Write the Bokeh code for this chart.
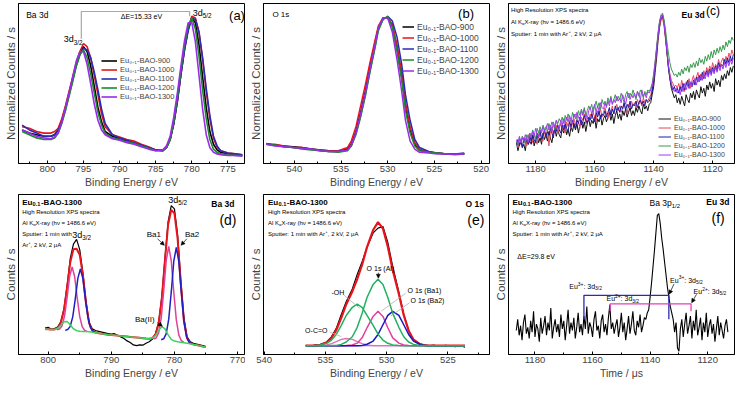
from bokeh.plotting import figure
from bokeh.layouts import gridplot
from bokeh.models import Label, Legend, LegendItem, Arrow, NormalHead, Range1d, FixedTicker
from bokeh.embed import file_html
from bokeh.resources import INLINE

FONT = "Liberation Sans"

# ---------------- data ----------------
series_labels = ["Eu₀.₁-BAO-900", "Eu₀.₁-BAO-1000", "Eu₀.₁-BAO-1100",
                 "Eu₀.₁-BAO-1200", "Eu₀.₁-BAO-1300"]

# (a) Ba 3d, normalized
be_a = [803.5, 802.5, 801.5, 800.5, 799.5, 799, 798.5, 798, 797.5, 797, 796.5, 796, 795.5, 795,
        794.5, 794, 793.5, 793, 792.5, 792, 791, 790, 789, 788, 787, 786, 785, 784, 783.5, 783,
        782.5, 782, 781.5, 781, 780.5, 780, 779.5, 779, 778.5, 778, 777.5, 777, 776.5, 776, 775, 774, 773]
a_900 = [.21, .19, .18, .17, .17, .18, .21, .27, .35, .44, .53, .62, .69, .73, .70, .61, .48, .35, .26, .20,
         .17, .155, .14, .13, .115, .10, .085, .08, .10, .15, .25, .39, .56, .72, .84, .91, .88, .74, .54, .35,
         .20, .12, .085, .07, .06, .055, .05]
a_1000 = [.23, .22, .20, .19, .19, .20, .22, .28, .36, .45, .54, .63, .70, .75, .73, .66, .55, .43, .31, .23,
          .18, .165, .15, .14, .12, .105, .085, .085, .10, .15, .25, .39, .56, .72, .84, .92, .91, .82, .65, .45,
          .28, .16, .10, .08, .065, .06, .055]
a_1100 = [.24, .21, .19, .17, .17, .18, .21, .26, .34, .43, .52, .61, .68, .72, .71, .66, .57, .46, .34, .25,
          .18, .16, .145, .13, .115, .10, .085, .08, .10, .15, .25, .39, .56, .71, .83, .91, .90, .82, .66, .47,
          .30, .17, .11, .08, .065, .06, .055]
a_1200 = [.20, .18, .16, .15, .15, .16, .19, .25, .33, .42, .51, .61, .68, .71, .66, .56, .44, .32, .24, .19,
          .16, .15, .135, .125, .11, .095, .08, .08, .10, .15, .26, .41, .58, .74, .86, .91, .84, .67, .46, .28,
          .15, .09, .07, .06, .055, .05, .05]
a_1300 = [.21, .19, .17, .16, .155, .165, .19, .26, .35, .44, .54, .64, .70, .70, .62, .50, .37, .27, .21, .18,
          .155, .145, .13, .12, .105, .09, .08, .085, .11, .17, .29, .44, .61, .77, .88, .88, .76, .55, .34, .18,
          .10, .07, .06, .055, .05, .05, .045]
ba_split = [795.3, 780.3]          # 3d3/2 and 3d5/2 positions for the bracket

# (b) O 1s, normalized
be_b = [543.0, 542.1, 541.1, 540.1, 539.2, 538.2, 537.2, 536.3, 535.3, 534.3, 533.9, 533.4, 532.9, 532.4,
        531.9, 531.4, 531.0, 530.5, 530.0, 529.5, 529.0, 528.5, 528.1, 527.6, 527.1, 526.6, 525.6, 524.7,
        523.7, 522.8, 521.8]
b_900 = [.12, .115, .11, .105, .10, .09, .085, .08, .075, .09, .12, .20, .32, .45, .60, .74, .85, .91, .91, .86,
         .72, .54, .36, .21, .12, .085, .07, .065, .06, .06, .06]
b_1000 = [.12, .12, .11, .10, .10, .09, .085, .08, .08, .10, .14, .23, .36, .49, .63, .76, .86, .91, .91, .87,
          .74, .57, .38, .23, .13, .09, .07, .065, .06, .06, .06]
b_1100 = [.125, .115, .105, .10, .095, .09, .08, .075, .075, .085, .11, .19, .30, .43, .58, .72, .84, .90, .92, .89,
          .79, .62, .43, .27, .15, .10, .075, .065, .06, .06, .065]
b_1200 = [.12, .115, .105, .10, .09, .085, .08, .075, .07, .08, .11, .18, .29, .42, .57, .71, .83, .90, .92, .85,
          .70, .52, .33, .19, .11, .08, .07, .065, .06, .06, .06]
b_1300 = [.12, .11, .105, .10, .095, .09, .08, .075, .075, .085, .115, .19, .31, .44, .59, .73, .85, .91, .91, .82,
          .65, .45, .27, .14, .09, .07, .065, .06, .06, .055, .06]

# shared 0.5 step grid for (c) binding energy and (f) time
t_grid = [1186.5, 1186, 1185.5, 1185, 1184.5, 1184, 1183.5, 1183, 1182.5, 1182,
          1181.5, 1181, 1180.5, 1180, 1179.5, 1179, 1178.5, 1178, 1177.5, 1177,
          1176.5, 1176, 1175.5, 1175, 1174.5, 1174, 1173.5, 1173, 1172.5, 1172,
          1171.5, 1171, 1170.5, 1170, 1169.5, 1169, 1168.5, 1168, 1167.5, 1167,
          1166.5, 1166, 1165.5, 1165, 1164.5, 1164, 1163.5, 1163, 1162.5, 1162,
          1161.5, 1161, 1160.5, 1160, 1159.5, 1159, 1158.5, 1158, 1157.5, 1157,
          1156.5, 1156, 1155.5, 1155, 1154.5, 1154, 1153.5, 1153, 1152.5, 1152,
          1151.5, 1151, 1150.5, 1150, 1149.5, 1149, 1148.5, 1148, 1147.5, 1147,
          1146.5, 1146, 1145.5, 1145, 1144.5, 1144, 1143.5, 1143, 1142.5, 1142,
          1141.5, 1141, 1140.5, 1140, 1139.5, 1139, 1138.5, 1138, 1137.5, 1137,
          1136.5, 1136, 1135.5, 1135, 1134.5, 1134, 1133.5, 1133, 1132.5, 1132,
          1131.5, 1131, 1130.5, 1130, 1129.5, 1129, 1128.5, 1128, 1127.5, 1127,
          1126.5, 1126, 1125.5, 1125, 1124.5, 1124, 1123.5, 1123, 1122.5, 1122,
          1121.5, 1121, 1120.5, 1120, 1119.5, 1119, 1118.5, 1118, 1117.5, 1117,
          1116.5, 1116, 1115.5, 1115, 1114.5, 1114, 1113.5, 1113]

# (c) Eu 3d, normalized
c_900 = [.13, .08, .12, .15, .10, .12, .08, .15, .12, .14,
         .12, .17, .11, .15, .18, .13, .16, .12, .19, .15,
         .18, .14, .20, .16, .13, .19, .22, .17, .21, .18,
         .16, .22, .19, .24, .18, .21, .17, .23, .20, .25,
         .21, .25, .19, .24, .27, .22, .26, .20, .25, .28,
         .23, .27, .25, .29, .22, .28, .26, .30, .24, .28,
         .30, .26, .29, .32, .27, .31, .25, .30, .33, .28,
         .31, .27, .33, .30, .34, .29, .32, .35, .30, .33,
         .30, .35, .32, .36, .33, .31, .37, .34, .36, .33,
         .37, .38, .43, .48, .57, .66, .77, .85, .90, .92,
         .88, .79, .70, .60, .53, .47, .44, .41, .43, .38,
         .41, .37, .42, .39, .36, .43, .40, .38, .44, .41,
         .45, .40, .46, .43, .41, .48, .44, .47, .42, .49,
         .46, .51, .47, .50, .45, .53, .49, .52, .48, .55,
         .52, .56, .53, .58, .55, .60, .57, .61]
c_1000 = [.14, .10, .15, .12, .17, .13, .16, .11, .18, .14,
          .17, .13, .19, .15, .12, .18, .21, .16, .14, .20,
          .17, .21, .11, .19, .23, .18, .20, .24, .19, .22,
          .25, .21, .24, .19, .26, .23, .27, .22, .25, .28,
          .24, .28, .26, .22, .29, .27, .31, .25, .29, .27,
          .31, .28, .32, .29, .26, .33, .30, .34, .29, .32,
          .35, .31, .28, .34, .32, .36, .31, .34, .37, .33,
          .36, .32, .35, .38, .34, .31, .37, .35, .39, .36,
          .38, .35, .40, .37, .39, .36, .41, .38, .40, .39,
          .41, .43, .47, .52, .60, .69, .78, .86, .90, .91,
          .86, .78, .69, .61, .56, .52, .50, .48, .49, .47,
          .50, .46, .52, .48, .45, .51, .49, .53, .47, .52,
          .55, .50, .54, .57, .52, .56, .53, .58, .55, .60,
          .57, .61, .58, .63, .59, .62, .60, .65, .61, .64,
          .66, .62, .67, .64, .69, .66, .71, .68]
c_1100 = [.12, .15, .11, .14, .10, .16, .13, .15, .12, .17,
          .14, .18, .15, .13, .19, .16, .20, .15, .18, .21,
          .17, .20, .18, .22, .19, .16, .23, .20, .24, .21,
          .19, .24, .21, .25, .22, .20, .26, .23, .27, .24,
          .22, .27, .25, .29, .24, .26, .30, .27, .25, .29,
          .27, .31, .28, .26, .32, .29, .33, .28, .31, .30,
          .33, .29, .32, .35, .30, .34, .31, .36, .33, .35,
          .32, .36, .34, .38, .33, .37, .35, .39, .34, .37,
          .36, .39, .35, .38, .40, .37, .39, .36, .40, .38,
          .39, .41, .45, .52, .61, .71, .80, .88, .92, .93,
          .89, .80, .70, .60, .53, .49, .46, .48, .45, .47,
          .44, .48, .45, .50, .46, .49, .52, .47, .51, .48,
          .52, .49, .54, .51, .55, .52, .57, .53, .56, .58,
          .55, .59, .56, .60, .57, .61, .58, .63, .60, .62,
          .61, .65, .62, .66, .63, .67, .64, .68]
c_1200 = [.14, .11, .16, .13, .17, .15, .12, .18, .16, .19,
          .17, .21, .18, .15, .22, .19, .23, .20, .24, .21,
          .23, .20, .25, .22, .26, .24, .21, .27, .25, .28,
          .26, .29, .25, .30, .27, .31, .28, .26, .32, .29,
          .31, .28, .33, .30, .34, .31, .35, .29, .33, .36,
          .34, .37, .32, .36, .39, .35, .38, .34, .40, .37,
          .39, .36, .41, .38, .42, .37, .40, .43, .39, .42,
          .40, .44, .41, .38, .43, .45, .41, .44, .42, .46,
          .43, .40, .45, .42, .46, .44, .41, .45, .43, .46,
          .45, .47, .50, .56, .64, .73, .82, .89, .93, .94,
          .90, .84, .76, .69, .63, .59, .57, .55, .56, .54,
          .57, .55, .59, .56, .60, .58, .61, .57, .62, .60,
          .63, .60, .64, .61, .66, .63, .65, .62, .67, .64,
          .68, .65, .70, .66, .71, .68, .72, .69, .73, .70,
          .74, .71, .76, .73, .77, .75, .79, .77]
c_1300 = [.15, .12, .17, .13, .16, .14, .18, .15, .13, .19,
          .16, .20, .17, .22, .18, .16, .21, .19, .23, .20,
          .22, .25, .21, .24, .20, .26, .23, .27, .24, .22,
          .27, .24, .28, .25, .29, .26, .30, .27, .25, .31,
          .28, .32, .29, .27, .33, .30, .34, .31, .28, .33,
          .35, .31, .34, .37, .32, .36, .33, .38, .35, .34,
          .38, .35, .39, .36, .41, .37, .40, .38, .42, .39,
          .41, .38, .43, .40, .37, .42, .44, .40, .43, .41,
          .44, .41, .45, .43, .40, .46, .42, .44, .41, .45,
          .44, .46, .49, .55, .63, .72, .81, .88, .92, .93,
          .88, .80, .71, .62, .55, .50, .47, .45, .47, .44,
          .46, .43, .48, .45, .50, .46, .49, .47, .51, .48,
          .50, .53, .49, .54, .51, .55, .52, .56, .53, .57,
          .54, .58, .55, .59, .56, .60, .57, .61, .58, .62,
          .59, .63, .60, .64, .61, .65, .62, .66]

# (f) Eu0.1-BAO-1300 versus time
f_1300 = [.15, .22, .12, .18, .09, .20, .25, .13, .17, .10,
          .21, .14, .27, .11, .19, .16, .08, .23, .13, .18,
          .24, .12, .20, .15, .29, .10, .17, .22, .14, .19,
          .11, .25, .16, .21, .09, .18, .28, .13, .20, .15,
          .23, .10, .17, .26, .14, .19, .12, .24, .16, .30,
          .13, .20, .17, .11, .22, .27, .15, .18, .10, .21,
          .25, .14, .19, .12, .23, .31, .16, .20, .13, .18,
          .22, .11, .17, .26, .14, .20, .09, .16, .24, .13,
          .19, .27, .15, .12, .21, .17, .25, .14, .18, .23,
          .22, .26, .28, .36, .45, .55, .65, .76, .87, .88,
          .82, .73, .66, .58, .50, .42, .36, .30, .26, .22,
          .14, .20, .04, .02, .16, .22, .11, .19, .26, .13,
          .18, .24, .10, .21, .15, .28, .12, .17, .23, .09,
          .20, .14, .26, .11, .18, .22, .13, .19, .08, .16,
          .24, .12, .20, .15, .10, .18, .22, .14]
eu3_split = [1163.0, 1133.5]
eu2_split = [1153.9, 1125.8]

# (d) Ba 3d fit, Eu0.1-BAO-1300
be_d = [800.5, 800, 799.5, 799, 798.5, 798, 797.5, 797, 796.5, 796, 795.5, 795, 794.5, 794, 793.5, 793,
        792.5, 792, 791.5, 791, 790.5, 790, 789.5, 789, 788.5, 788, 787.5, 787, 786.5, 786, 785.5, 785,
        784.5, 784, 783.5, 783, 782.5, 782, 781.5, 781, 780.5, 780, 779.5, 779, 778.5, 778, 777.5, 777,
        776.5, 776, 775.5, 775]
d_data = [.165, .170, .158, .162, .172, .205, .285, .43, .60, .69, .72, .655, .51, .33, .20, .16, .15, .145,
          .14, .135, .13, .128, .13, .12, .11, .10, .085, .075, .06, .055, .06, .058, .07, .08, .095, .13, .20,
          .36, .60, .83, .93, .91, .75, .47, .23, .11, .08, .07, .065, .06, .055, .05]
d_env = [.160, .158, .156, .157, .166, .198, .276, .419, .577, .658, .661, .623, .497, .318, .195, .149, .137,
         .133, .130, .127, .124, .122, .120, .118, .116, .114, .112, .110, .108, .106, .104, .102, .100, .099,
         .102, .125, .194, .348, .589, .812, .904, .882, .726, .450, .212, .102, .071, .063, .059, .055, .050, .046]
d_ba2 = [.160, .158, .156, .157, .164, .183, .205, .207, .184, .161, .149, .145, .144, .143, .142, .139, .136,
         .133, .130, .127, .124, .122, .120, .118, .116, .114, .112, .110, .108, .106, .104, .102, .100, .099,
         .102, .119, .151, .174, .160, .123, .095, .084, .080, .077, .074, .071, .067, .063, .059, .055, .050, .046]
ba1_x32 = [798.6, 798.2, 797.8, 797.4, 797.0, 796.6, 796.2, 795.8, 795.4, 795.0, 794.6, 794.2, 793.8]
ba1_y32 = [.154, .159, .180, .242, .357, .488, .547, .486, .353, .237, .173, .150, .143]
ba2_x32 = [797.3, 796.9, 796.5, 796.1, 795.7, 795.3, 794.9, 794.5, 794.1, 793.7, 793.3, 792.9, 792.5]
ba2_y32 = [.151, .156, .176, .237, .349, .476, .534, .474, .345, .231, .168, .145, .137]
ba1_x52 = [783.3, 782.9, 782.5, 782.1, 781.7, 781.3, 780.9, 780.5, 780.1, 779.7, 779.3, 778.9, 778.5]
ba1_y52 = [.097, .103, .135, .226, .395, .588, .675, .585, .389, .216, .121, .086, .076]
ba2_x52 = [782.1, 781.7, 781.3, 780.9, 780.5, 780.1, 779.7, 779.3, 778.9, 778.5, 778.1, 777.7, 777.3]
ba2_y52 = [.092, .098, .130, .221, .391, .583, .670, .579, .383, .210, .114, .078, .067]

# (e) O 1s fit, Eu0.1-BAO-1300
be_e = [536.6, 536.2, 535.8, 535.4, 534.9, 534.5, 534.1, 533.7, 533.3, 532.8, 532.4, 532.0, 531.6, 531.1,
        530.7, 530.3, 529.9, 529.5, 529.0, 528.6, 528.2, 527.8, 527.3, 526.9, 526.5, 526.1, 525.7, 525.2,
        524.8, 524.4, 524.0, 523.6]
e_data = [.058, .052, .060, .063, .078, .11, .165, .25, .33, .41, .50, .58, .67, .76, .79, .80, .70, .55, .39,
          .25, .15, .09, .065, .06, .055, .058, .05, .057, .054, .049, .056, .045]
e_env = [.055, .055, .057, .061, .075, .104, .154, .229, .313, .394, .471, .561, .671, .778, .827, .787, .673,
         .526, .378, .246, .149, .092, .066, .058, .055, .055, .055, .055, .055, .055, .055, .055]
e_al = [.055, .055, .055, .055, .055, .056, .057, .063, .078, .111, .170, .257, .356, .438, .470, .438, .356,
        .257, .170, .111, .078, .063, .057, .056, .055, .055, .055, .055, .055, .055, .055, .055]
e_oh = [.055, .055, .057, .060, .070, .090, .127, .182, .244, .295, .315, .295, .244, .182, .127, .090, .070,
        .060, .057, .055, .055, .055, .055, .055, .055, .055, .055, .055, .055, .055, .055, .055]
e_ba1 = [.055, .055, .055, .055, .055, .055, .055, .055, .056, .059, .071, .104, .167, .238, .270, .238, .167,
         .104, .071, .059, .056, .055, .055, .055, .055, .055, .055, .055, .055, .055, .055, .055]
e_ba2 = [.055, .055, .055, .055, .055, .055, .055, .055, .055, .055, .055, .057, .064, .084, .125, .186, .245,
         .270, .245, .186, .125, .084, .064, .057, .055, .055, .055, .055, .055, .055, .055, .055]
e_oco = [.055, .055, .055, .056, .060, .068, .080, .094, .100, .094, .080, .068, .060, .056, .055, .055, .055,
         .055, .055, .055, .055, .055, .055, .055, .055, .055, .055, .055, .055, .055, .055, .055]
e_base = [.055, .055, .055, .055, .055, .055, .055, .055, .055, .055, .055, .055, .055, .055, .055, .055, .055,
          .055, .055, .055, .055, .055, .055, .055, .055, .055, .055, .055, .055, .055, .055, .055]

# ---------------- helpers ----------------
CW = {' ': 278, '!': 278, '(': 333, ')': 333, '+': 584, ',': 278, '-': 333, '.': 278, '/': 278, ':': 278,
      '=': 584, 'A': 667, 'B': 667, 'C': 722, 'D': 722, 'E': 667, 'F': 611, 'G': 778, 'H': 722, 'I': 278,
      'K': 667, 'L': 556, 'M': 833, 'N': 722, 'O': 778, 'P': 667, 'R': 722, 'S': 667, 'T': 611, 'U': 722,
      'V': 667, 'X': 667, 'a': 556, 'b': 556, 'c': 500, 'd': 556, 'e': 556, 'f': 278, 'g': 556, 'h': 556,
      'i': 222, 'k': 500, 'l': 222, 'm': 833, 'n': 556, 'o': 556, 'p': 556, 'r': 333, 's': 500, 't': 278,
      'u': 556, 'v': 500, 'w': 722, 'y': 500, 'z': 500, 'α': 578, 'ν': 500, 'μ': 576, 'Δ': 668}
for _d in "0123456789":
    CW[_d] = 556

# reference-pixel -> data mapping for placing annotations
PANEL = {"a": (800, 48.5, 7.33, 172, 169), "b": (530, 395.3, 9.5, 172, 169),
         "c": (1180, 546.7, 3.0, 166, 163), "d": (800, 48.3, 6.45, 371, 170),
         "e": (540, 268, 12.55, 371, 170), "f": (1180, 545, 2.94, 371, 170)}


def pos(k, X, Y):
    x0, px0, s, yb, h = PANEL[k]
    return x0 - (X - px0) / s, (yb - Y) / h


def tw(s, fs, bold):
    return sum(CW.get(ch, 556) for ch in s) / 1000.0 * fs * (1.07 if bold else 1.0)


def rich(p, k, X, Y, parts, fs, color="black", bold=False, align="left"):
    x, y = pos(k, X, Y)
    items, total = [], 0.0
    for t, kind in parts:
        f = fs * 0.7 if kind in ("sub", "sup") else fs
        items.append((t, kind, f, total))
        total += tw(t, f, bold)
    start = -total if align == "right" else (-total / 2 if align == "center" else 0)
    for t, kind, f, off in items:
        dy = -0.3 * fs if kind == "sub" else (0.4 * fs if kind == "sup" else 0)
        p.add_layout(Label(x=x, y=y, x_offset=start + off, y_offset=dy, text=t, text_font=FONT,
                           text_font_size=f"{f:.1f}px", text_color=color,
                           text_font_style="bold" if bold else "normal",
                           text_baseline="middle", text_align="left"))


def arrow(p, k, X1, Y1, X2, Y2):
    x1, y1 = pos(k, X1, Y1)
    x2, y2 = pos(k, X2, Y2)
    p.add_layout(Arrow(end=NormalHead(size=4, fill_color="black", line_color="black", line_width=0.5),
                       x_start=x1, y_start=y1, x_end=x2, y_end=y2, line_width=0.7, line_color="black"))


def leader(p, k, X1, Y1, X2, Y2):
    x1, y1 = pos(k, X1, Y1)
    x2, y2 = pos(k, X2, Y2)
    p.segment(x0=[x1], y0=[y1], x1=[x2], y1=[y2], line_color="#b0b0b0", line_width=0.8)


def make_fig(xr, ticks, minor, xlabel, ylabel):
    p = figure(width=245, height=191, x_range=Range1d(xr[0], xr[1]), y_range=Range1d(0, 1),
               output_backend="svg", toolbar_location=None,
               min_border_left=18, min_border_right=1, min_border_top=3, min_border_bottom=28)
    p.outline_line_color = "black"
    p.outline_line_width = 1
    p.outline_line_alpha = 1
    p.xgrid.visible = False
    p.ygrid.visible = False
    ax = p.xaxis[0]
    ax.ticker = FixedTicker(ticks=ticks, minor_ticks=minor)
    ax.major_tick_in = 3
    ax.major_tick_out = 0
    ax.minor_tick_in = 2
    ax.minor_tick_out = 0
    ax.major_label_text_font = FONT
    ax.major_label_text_font_size = "9.5px"
    ax.major_label_standoff = 2
    ax.axis_label = xlabel
    ax.axis_label_text_font = FONT
    ax.axis_label_text_font_size = "10.5px"
    ax.axis_label_text_font_style = "normal"
    ax.axis_label_standoff = 1
    ay = p.yaxis[0]
    ay.ticker = FixedTicker(ticks=[])
    ay.major_tick_in = 0
    ay.major_tick_out = 0
    ay.minor_tick_in = 0
    ay.minor_tick_out = 0
    ay.major_label_text_font_size = "0px"
    ay.axis_label = ylabel
    ay.axis_label_text_font = FONT
    ay.axis_label_text_font_size = "11.5px"
    ay.axis_label_text_font_style = "normal"
    ay.axis_label_standoff = 2
    return p


def legend(p, rends, loc, fs, gw, rh):
    items = [LegendItem(label=l, renderers=[r]) for l, r in zip(series_labels, rends)]
    lg = Legend(items=items, location=loc, label_text_font=FONT, label_text_font_size=fs,
                glyph_width=gw, glyph_height=rh, label_height=rh, spacing=0, padding=0, margin=0,
                label_standoff=3, border_line_alpha=0, background_fill_alpha=0)
    p.add_layout(lg)


def info_lines(p, k, X, Ys, split=False):
    rich(p, k, X, Ys[0], [("High Resolution XPS spectra", "n")], 6)
    rich(p, k, X, Ys[1], [("Al K", "n"), ("α", "sub"), (" X-ray (hν = 1486.6 eV)", "n")], 6)
    if split:
        rich(p, k, X, Ys[2], [("Sputter: 1 min with", "n")], 6)
        rich(p, k, X, Ys[3], [("Ar", "n"), ("+", "sup"), (", 2 kV, 2 μA", "n")], 6)
    else:
        rich(p, k, X, Ys[2], [("Sputter: 1 min with Ar", "n"), ("+", "sup"), (", 2 kV, 2 μA", "n")], 6)


def sample_title(p, k, X, Y):
    rich(p, k, X, Y, [("Eu", "n"), ("0.1", "sub"), ("-BAO-1300", "n")], 8, bold=True)


COLS = ["#000000", "#e8141c", "#2a2ab4", "#1a8c2a", "#9a2be8"]
COLS_C = ["#111111", "#e64a5e", "#1c1ca8", "#3a9a4e", "#a03cf0"]

# ---------------- (a) ----------------
pa = make_fig((804.0, 772.7), [800, 795, 790, 785, 780, 775], [802.5, 797.5, 792.5, 787.5, 782.5, 777.5, 772.5],
              "Binding Energy / eV", "Normalized Counts / s")
ra = [pa.line(be_a, ys, line_color=c, line_width=1.6)
      for ys, c in zip([a_900, a_1000, a_1100, a_1200, a_1300], COLS)]
legend(pa, ra, (83, 62), "7.5px", 16, 9)
pa.line([ba_split[0], ba_split[0], ba_split[1], ba_split[1]], [0.78, 0.95, 0.95, 0.92],
        line_color="#a8a8a8", line_width=1.2)
rich(pa, "a", 27, 15, [("Ba 3d", "n")], 8.5)
rich(pa, "a", 241, 16, [("(a)", "n")], 13, align="center")
rich(pa, "a", 144, 17, [("ΔE=15.33 eV", "n")], 7, align="center")
rich(pa, "a", 65, 41, [("3d", "n"), ("3/2", "sub")], 9)
rich(pa, "a", 196, 13, [("3d", "n"), ("5/2", "sub")], 9)

# ---------------- (b) ----------------
pb = make_fig((543.3, 519.1), [540, 535, 530, 525, 520], [542.5, 537.5, 532.5, 527.5, 522.5],
              "Binding Energy / eV", "Normalized Counts / s")
rb = [pb.line(be_b, ys, line_color=c, line_width=1.5)
      for ys, c in zip([b_900, b_1000, b_1100, b_1200, b_1300], COLS)]
legend(pb, rb, (139, 87), "8.5px", 12, 11)
rich(pb, "b", 278, 15, [("O 1s", "n")], 8)
rich(pb, "b", 475, 14, [("(b)", "n")], 13, align="center")

# ---------------- (c) ----------------
pc = make_fig((1189.2, 1112.6), [1180, 1160, 1140, 1120], [1170, 1150, 1130],
              "Binding Energy / eV", "Normalized Counts / s")
rc = [pc.line(t_grid, ys, line_color=c, line_width=1.0)
      for ys, c in zip([c_900, c_1000, c_1100, c_1200, c_1300], COLS_C)]
legend(pc, rc, (150, 4), "7px", 13, 9)
info_lines(pc, "c", 521.7, [10, 22, 34])
rich(pc, "c", 695, 15, [("Eu 3d", "n")], 8.5, bold=True)
rich(pc, "c", 720, 11, [("(c)", "n")], 12)

# ---------------- (d) ----------------
pd_ = make_fig((804.7, 768.9), [800, 790, 780, 770], [795, 785, 775], "Binding Energy / eV", "Counts / s")
pd_.line(be_d, d_data, line_color="black", line_width=1.2)
pd_.line(be_d, d_env, line_color="#e8141c", line_width=2)
pd_.line(ba1_x32, ba1_y32, line_color="#e0409a", line_width=1.5)
pd_.line(ba1_x52, ba1_y52, line_color="#e0409a", line_width=1.5)
pd_.line(ba2_x32, ba2_y32, line_color="#2020c0", line_width=1.5)
pd_.line(ba2_x52, ba2_y52, line_color="#2020c0", line_width=1.5)
pd_.line(be_d, d_ba2, line_color="#40d060", line_width=1.5)
sample_title(pd_, "d", 21.7, 209)
info_lines(pd_, "d", 21.7, [220, 231, 243, 255], split=True)
rich(pd_, "d", 73, 244, [("3d", "n"), ("3/2", "sub")], 9)
rich(pd_, "d", 171, 207, [("3d", "n"), ("5/2", "sub")], 9)
rich(pd_, "d", 215, 211, [("Ba 3d", "n")], 8.5, bold=True)
rich(pd_, "d", 232, 228, [("(d)", "n")], 14, align="center")
rich(pd_, "d", 149, 244, [("Ba1", "n")], 8)
arrow(pd_, "d", 160, 248, 167, 255)
rich(pd_, "d", 188, 244, [("Ba2", "n")], 8)
arrow(pd_, "d", 190, 248, 184, 255)
rich(pd_, "d", 137, 334, [("Ba(II)", "n")], 8)
arrow(pd_, "d", 160, 337, 165, 341)

# ---------------- (e) ----------------
pe = make_fig((540.05, 521.6), [540, 535, 530, 525], [537.5, 532.5, 527.5, 522.5],
              "Binding Energy / eV", "Counts / s")
pe.line(be_e, e_data, line_color="black", line_width=1.2)
pe.line(be_e, e_env, line_color="#e8141c", line_width=2.2)
pe.line(be_e, e_base, line_color="#b050e0", line_width=1.2)
pe.line(be_e, e_oco, line_color="#e070b0", line_width=1.3)
pe.line(be_e, e_ba1, line_color="#e040a0", line_width=1.5)
pe.line(be_e, e_ba2, line_color="#1818c0", line_width=1.5)
pe.line(be_e, e_oh, line_color="#22b060", line_width=1.5)
pe.line(be_e, e_al, line_color="#22b060", line_width=1.5)
sample_title(pe, "e", 272, 209)
info_lines(pe, "e", 272, [220, 231, 243])
rich(pe, "e", 494, 211, [("O 1s", "n")], 8.5, bold=True, align="right")
rich(pe, "e", 485, 228, [("(e)", "n")], 14, align="center")
rich(pe, "e", 373, 280, [("O 1s (Al)", "n")], 7)
arrow(pe, "e", 385, 284, 385, 290)
rich(pe, "e", 337, 305, [("-OH", "n")], 7)
leader(pe, "e", 350, 308, 366, 322)
rich(pe, "e", 415, 303, [("O 1s (Ba1)", "n")], 7)
leader(pe, "e", 413, 306, 388, 325)
rich(pe, "e", 418, 314, [("O 1s (Ba2)", "n")], 7)
leader(pe, "e", 417, 316, 398, 330)
rich(pe, "e", 310, 345, [("O-C=O", "n")], 7)
leader(pe, "e", 335, 347, 347, 352)

# ---------------- (f) ----------------
pf = make_fig((1189.2, 1110.7), [1180, 1160, 1140, 1120], [1170, 1150, 1130], "Time / μs", "Counts / s")
pf.line(t_grid, f_1300, line_color="black", line_width=1.1)
pf.line([eu3_split[0], eu3_split[0], eu3_split[1], eu3_split[1]], [0.22, 0.37, 0.37, 0.22],
        line_color="#2a2ab4", line_width=1.3)
pf.line([eu2_split[0], eu2_split[0], eu2_split[1], eu2_split[1]], [0.27, 0.316, 0.316, 0.27],
        line_color="#e040c0", line_width=1.3)
sample_title(pf, "f", 522, 209)
info_lines(pf, "f", 522, [220, 231, 243])
rich(pf, "f", 527, 267, [("ΔE=29.8 eV", "n")], 7)
rich(pf, "f", 662, 210, [("Ba 3p", "n"), ("1/2", "sub")], 8.5)
rich(pf, "f", 720, 209, [("Eu 3d", "n")], 8.5, bold=True)
rich(pf, "f", 732, 226, [("(f)", "n")], 14, align="center")
rich(pf, "f", 580, 299, [("Eu", "n"), ("3+", "sup"), (": 3d", "n"), ("3/2", "sub")], 7)
rich(pf, "f", 618, 312, [("Eu", "n"), ("2+", "sup"), (": 3d", "n"), ("3/2", "sub")], 7)
rich(pf, "f", 683, 292, [("Eu", "n"), ("3+", "sup"), (": 3d", "n"), ("5/2", "sub")], 7)
rich(pf, "f", 707, 304, [("Eu", "n"), ("2+", "sup"), (": 3d", "n"), ("5/2", "sub")], 7)
arrow(pf, "f", 687, 296, 682, 307)
arrow(pf, "f", 710, 307, 705, 316)

grid = gridplot([[pa, pb, pc], [pd_, pe, pf]], toolbar_location=None)
open("out.html", "w").write(file_html(grid, INLINE, title="XPS spectra"))
